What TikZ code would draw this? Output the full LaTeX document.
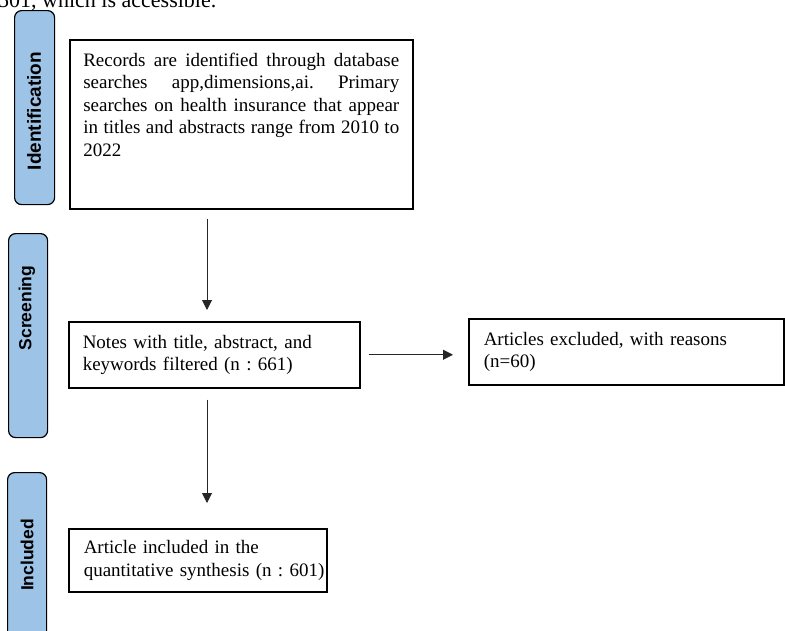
\documentclass[tikz,border=0pt]{standalone}
\usepackage{fontspec}
\setmainfont{Liberation Serif}
\newfontfamily\tabfont{Liberation Sans}
\usetikzlibrary{arrows.meta}
\definecolor{tabblue}{RGB}{157,195,230}
\frenchspacing
\tikzset{
	stagetab/.style={draw, rounded corners=7pt, fill=tabblue, line width=1.2pt, anchor=north west, inner sep=0pt},
	tablabel/.style={rotate=90, inner sep=0pt, font=\tabfont\bfseries\fontsize{17.5}{20}\selectfont},
	recbox/.style={draw, line width=1.5pt, anchor=north west, align=left, inner xsep=15pt, inner ysep=0pt, font=\fontsize{19}{22.5}\selectfont},
	flowarrow/.style={-{Triangle[width=10pt,length=10pt]}, line width=1pt, draw=black!85},
}

\begin{document}
\begin{tikzpicture}[x=1pt, y=-1pt]
	\useasboundingbox (0,0) rectangle (785,630);
	\node[anchor=base west, inner sep=0pt, font=\fontsize{22}{26}\selectfont] (topline) at (-2,7) {501, which is accessible.};

	\node[stagetab, minimum width=40pt, minimum height=194pt] (tab1) at (14,10) {};
	\node[stagetab, minimum width=39pt, minimum height=204pt] (tab2) at (8,233) {};
	\node[stagetab, minimum width=39pt, minimum height=212pt] (tab3) at (7,472) {};
	\node[tablabel, font=\tabfont\bfseries\fontsize{19}{22}\selectfont] (lab1) at (34,111) {Identification};
	\node[tablabel] (lab2) at (27,308) {Screening};
	\node[tablabel] (lab3) at (27,555) {Included};

	\node[
	recbox, inner xsep=0pt,
	minimum width=343pt
	] (box1) at (69,39) {\parbox[c][169pt][t]{316pt}{\vspace*{13pt}Records are identified through database\linebreak searches app,dimensions,ai. Primary\linebreak searches on health insurance that appear\linebreak in titles and abstracts range from 2010 to\linebreak 2022}};
	\node[recbox, inner xsep=14pt, text width=263pt, minimum height=66pt] (box2) at (68,321) {Notes with title, abstract, and\\keywords filtered (n : 661)};
	\node[recbox, text width=285pt, minimum height=66pt] (box3) at (468,318) {Articles excluded, with reasons\\(n=60)};
	\node[recbox, text width=228pt, minimum height=63pt] (box4) at (68,528) {Article included in the\\\mbox{quantitative synthesis (n : 601)}};

	\coordinate (axis) at (207,0);
	\draw[flowarrow, shorten <=9pt, shorten >=11pt] (box1.south -| axis) -- (box2.north -| axis);
	\draw[flowarrow, shorten <=8pt, shorten >=15pt] (box2.east) -- (box2.east -| box3.west);
	\draw[flowarrow, shorten <=11pt, shorten >=25pt] (box2.south -| axis) -- (box4.north -| axis);
\end{tikzpicture}
\end{document}
